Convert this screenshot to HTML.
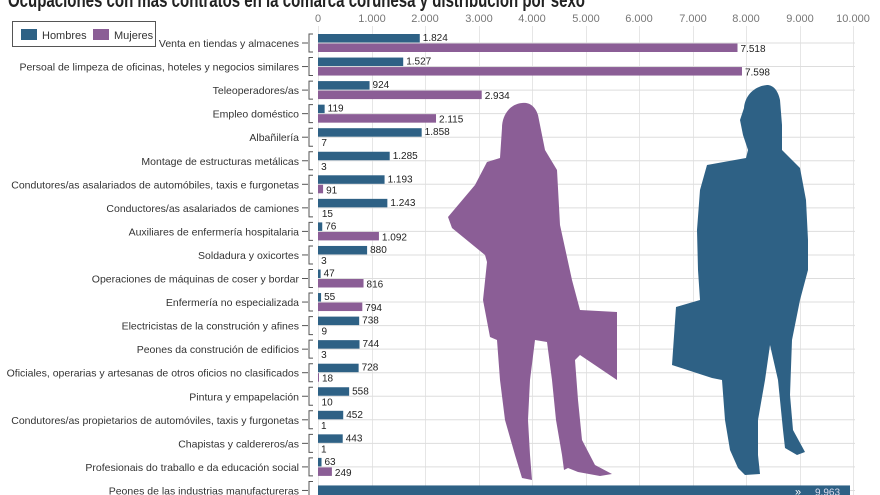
<!DOCTYPE html>
<html><head><meta charset="utf-8"><style>
body{margin:0;background:#fff;width:880px;height:495px;overflow:hidden;position:relative;font-family:"Liberation Sans",sans-serif}
</style></head><body>
<svg width="880" height="495" viewBox="0 0 880 495" xmlns="http://www.w3.org/2000/svg" style="position:absolute;left:0;top:0">
<text x="8" y="7" font-size="20" font-weight="bold" fill="#222" textLength="577" lengthAdjust="spacingAndGlyphs">Ocupaciones con más contratos en la comarca coruñesa y distribución por sexo</text>
<g stroke="#e6e6e6" stroke-width="1">
<line x1="318.5" y1="26" x2="318.5" y2="495"/>
<line x1="372.5" y1="26" x2="372.5" y2="495"/><line x1="425.5" y1="26" x2="425.5" y2="495"/>
<line x1="479.5" y1="26" x2="479.5" y2="495"/><line x1="532.5" y1="26" x2="532.5" y2="495"/>
<line x1="586.5" y1="26" x2="586.5" y2="495"/><line x1="639.5" y1="26" x2="639.5" y2="495"/>
<line x1="693.5" y1="26" x2="693.5" y2="495"/><line x1="746.5" y1="26" x2="746.5" y2="495"/>
<line x1="800.5" y1="26" x2="800.5" y2="495"/><line x1="853.5" y1="26" x2="853.5" y2="495"/>
</g>
<g font-size="11" fill="#777" text-anchor="middle">
<text x="318" y="22">0</text><text x="372" y="22">1.000</text><text x="425" y="22">2.000</text><text x="479" y="22">3.000</text><text x="532" y="22">4.000</text><text x="586" y="22">5.000</text><text x="639" y="22">6.000</text><text x="693" y="22">7.000</text><text x="746" y="22">8.000</text><text x="800" y="22">9.000</text><text x="853" y="22">10.000</text>
</g>
<rect x="12.5" y="21.5" width="143" height="25" fill="#fff" stroke="#555"/>
<rect x="21" y="29" width="16" height="11" fill="#2e6185"/><text x="42" y="39" font-size="11" fill="#333">Hombres</text>
<rect x="93" y="29" width="16" height="11" fill="#8b5e96"/><text x="114" y="39" font-size="11" fill="#333">Mujeres</text>
<g id="rows"></g>
<path fill="#8b5e96" d="M522,103 C510,104 502,115 502,128 L500,158 L487,162 L475,185 L448,217 L452,228 L485,255 L487,262 L483,300 L490,337 L497,340 L500,380 L505,420 L515,455 L522,478 L532,480 L530,455 L528,420 L530,380 L535,340 L547,342 L552,380 L556,420 L562,455 L564,470 L568,468 L578,472 L600,476 L612,474 L595,465 L582,440 L578,400 L575,360 L580,355 L617,380 L617,312 L580,310 L572,280 L560,225 L557,170 L545,150 L538,115 C535,105 528,102 522,103 Z"/>
<path fill="#2e6185" d="M767,85 C755,86 745,95 744,108 L740,120 L743,135 L748,150 L746,158 L707,165 L700,190 L697,230 L698,270 L700,300 L676,307 L672,365 L712,378 L722,380 L725,420 L730,450 L738,468 L745,475 L760,474 L758,455 L758,420 L765,380 L770,345 L778,380 L783,430 L785,448 L797,455 L805,452 L793,430 L790,395 L792,340 L800,300 L808,270 L808,240 L806,200 L800,168 L782,150 L782,125 L780,100 C778,90 773,85 767,85 Z"/>
</svg>
<script>
const d=[["Venta en tiendas y almacenes",1824,7518],["Persoal de limpeza de oficinas, hoteles y negocios similares",1527,7598],["Teleoperadores/as",924,2934],["Empleo doméstico",119,2115],["Albañilería",1858,7],["Montage de estructuras metálicas",1285,3],["Condutores/as asalariados de automóbiles, taxis e furgonetas",1193,91],["Conductores/as asalariados de camiones",1243,15],["Auxiliares de enfermería hospitalaria",76,1092],["Soldadura y oxicortes",880,3],["Operaciones  de máquinas de coser y bordar",47,816],["Enfermería  no especializada",55,794],["Electricistas de la construción y afines",738,9],["Peones da construción de edificios",744,3],["Oficiales, operarias y artesanas de otros oficios no clasificados",728,18],["Pintura y empapelación",558,10],["Condutores/as propietarios de automóviles, taxis y furgonetas",452,1],["Chapistas y caldereros/as",443,1],["Profesionais do traballo e da educación social",63,249],["Peones de las industrias manufactureras",9963,null]];
const g=document.getElementById('rows');const s=0.0558,x0=318;let h='';
d.forEach((r,i)=>{const c=43+i*23.55;
h+=`<line x1="318" y1="${c}" x2="855" y2="${c}" stroke="#ddd"/>`;
h+=`<text x="299" y="${c+4}" font-size="10.5" fill="#333" text-anchor="end">${r[0]}</text>`;
h+=`<line x1="302" y1="${c}" x2="308" y2="${c}" stroke="#555"/><path d="M313,${c-9} H309 V${c+9} H313" fill="none" stroke="#555"/>`;
if(r[2]===null){h+=`<rect x="318" y="${c-5}" width="532" height="12" fill="#2e6185"/><text x="795" y="${c+5}" font-size="11" fill="#fff">»</text><text x="815" y="${c+5}" font-size="10" fill="#dde">9.963</text>`;return;}
const w1=Math.max(r[1]*s,1.5),w2=Math.max(r[2]*s,0);
h+=`<rect x="318" y="${c-9}" width="${w1}" height="8.5" fill="#2e6185"/><text x="${x0+w1+3}" y="${c-2}" font-size="10" fill="#222">${r[1].toLocaleString('de-DE')}</text>`;
if(w2>1)h+=`<rect x="318" y="${c+0.5}" width="${w2}" height="8.5" fill="#8b5e96"/>`;
h+=`<text x="${x0+w2+3}" y="${c+9}" font-size="10" fill="#222">${r[2].toLocaleString('de-DE')}</text>`;});
g.innerHTML=h;
</script>
</body></html>
